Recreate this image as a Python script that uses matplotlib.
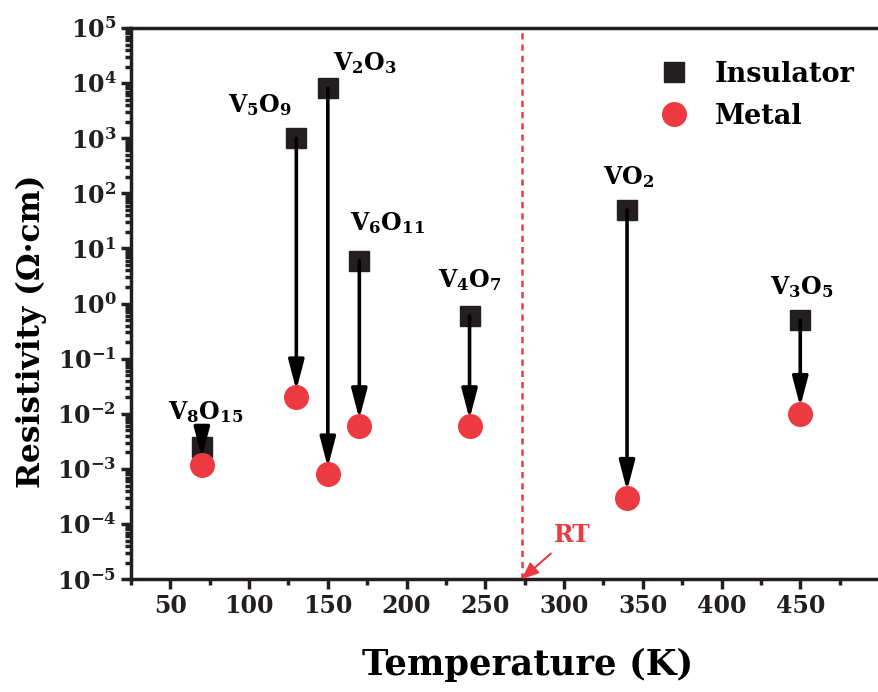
import matplotlib
matplotlib.use("Agg")
import matplotlib.pyplot as plt
import matplotlib.ticker as ticker
import numpy as np

# transition temperatures (K) and resistivities (Ohm cm)
oxides = ["V8O15", "V5O9", "V2O3", "V6O11", "V4O7", "VO2", "V3O5"]
labels = [r"V$_\mathbf{8}$O$_\mathbf{15}$", r"V$_\mathbf{5}$O$_\mathbf{9}$",
          r"V$_\mathbf{2}$O$_\mathbf{3}$", r"V$_\mathbf{6}$O$_\mathbf{11}$",
          r"V$_\mathbf{4}$O$_\mathbf{7}$", r"VO$_\mathbf{2}$",
          r"V$_\mathbf{3}$O$_\mathbf{5}$"]
temps = [70, 130, 150, 170, 240, 340, 450]
rho_insulator = [2.5e-3, 1e3, 8e3, 6.0, 0.6, 50, 0.5]
rho_metal = [1.2e-3, 2e-2, 8e-4, 6e-3, 6e-3, 3e-4, 1e-2]
room_temp = 273

# label offsets in points from the insulator point (label centre)
label_offsets = [(3, 25), (-26, 24), (27, 18), (20, 27), (0, 26), (1, 24), (1, 24)]

red = "#ED3A40"
dark = "#231F20"

plt.rcParams['font.family'] = ['DejaVu Serif']
plt.rcParams['font.weight'] = 'bold'
plt.rcParams['mathtext.fontset'] = 'custom'
plt.rcParams['mathtext.rm'] = 'DejaVu Serif:bold'
plt.rcParams['mathtext.bf'] = 'DejaVu Serif:bold'
plt.rcParams['mathtext.it'] = 'DejaVu Serif:bold'

fig = plt.figure(figsize=(8.79, 6.92), dpi=100)
ax = fig.add_axes([0.149, 0.163, 0.851, 0.7965])

for t, ri, rm in zip(temps, rho_insulator, rho_metal):
	ax.annotate("", xy=(t, rm), xytext=(t, ri),
		arrowprops=dict(arrowstyle="-|>,head_length=1.8,head_width=0.47", color="black",
			lw=2.6, shrinkA=0, shrinkB=5), zorder=4)

ax.plot(temps, rho_insulator, "s", color=dark, ms=15, label="Insulator", zorder=3)
ax.plot(temps, rho_metal, "o", color=red, ms=17, label="Metal", zorder=3)

for t, ri, lab, off in zip(temps, rho_insulator, labels, label_offsets):
	ax.annotate(lab, xy=(t, ri), xytext=off, textcoords="offset points",
		ha="center", va="center", fontsize=17, fontweight="bold", color="black")

ax.axvline(room_temp, color=red, ls=(0, (2.5, 2)), lw=1.8, zorder=1)
ax.annotate("RT", xy=(room_temp, 1e-5), xytext=(room_temp + 32, 6.3e-5),
	color=red, fontsize=17, fontweight="bold", ha="center", va="center",
	arrowprops=dict(arrowstyle="-|>,head_length=0.6,head_width=0.25", color=red, lw=1.5,
		shrinkA=4, shrinkB=0))

ax.set_yscale("log")
ax.set_xlim(25, 500)
ax.set_ylim(1e-5, 1e5)
ax.set_xticks(np.arange(50, 451, 50))
ax.xaxis.set_minor_locator(ticker.FixedLocator(np.arange(25, 500, 50)))
ax.yaxis.set_major_locator(ticker.LogLocator(base=10, numticks=20))
ax.yaxis.set_minor_locator(ticker.LogLocator(base=10, subs=np.arange(2, 10), numticks=20))
ax.yaxis.set_minor_formatter(ticker.NullFormatter())
ax.yaxis.set_major_formatter(ticker.FuncFormatter(lambda v, p: r"$\mathbf{10^{%d}}$" % round(np.log10(v))))

for side in ["left", "bottom", "top"]:
	ax.spines[side].set_linewidth(2.5)
	ax.spines[side].set_color(dark)
ax.spines["right"].set_visible(False)
ax.tick_params(which="major", direction="out", length=7, width=2.5, color=dark,
	labelsize=17, labelcolor=dark, top=False, right=False)
ax.tick_params(which="minor", direction="out", length=4.5, width=2.5, color=dark,
	top=False, right=False)
for lbl in ax.get_xticklabels():
	lbl.set_fontweight("bold")

ax.set_xlabel("Temperature (K)", fontsize=25.5, fontweight="bold")
ax.set_ylabel("Resistivity (Ω·cm)", fontsize=22.5, fontweight="bold")
ax.xaxis.set_label_coords(0.53, -0.125)
ax.yaxis.set_label_coords(-0.112, 0.45)

ax.legend(loc="upper right", frameon=False, fontsize=19.5, handletextpad=0.5,
	labelspacing=0.55, bbox_to_anchor=(1.0, 0.985), markerscale=1.0)

fig.savefig("out.png", dpi=100)
